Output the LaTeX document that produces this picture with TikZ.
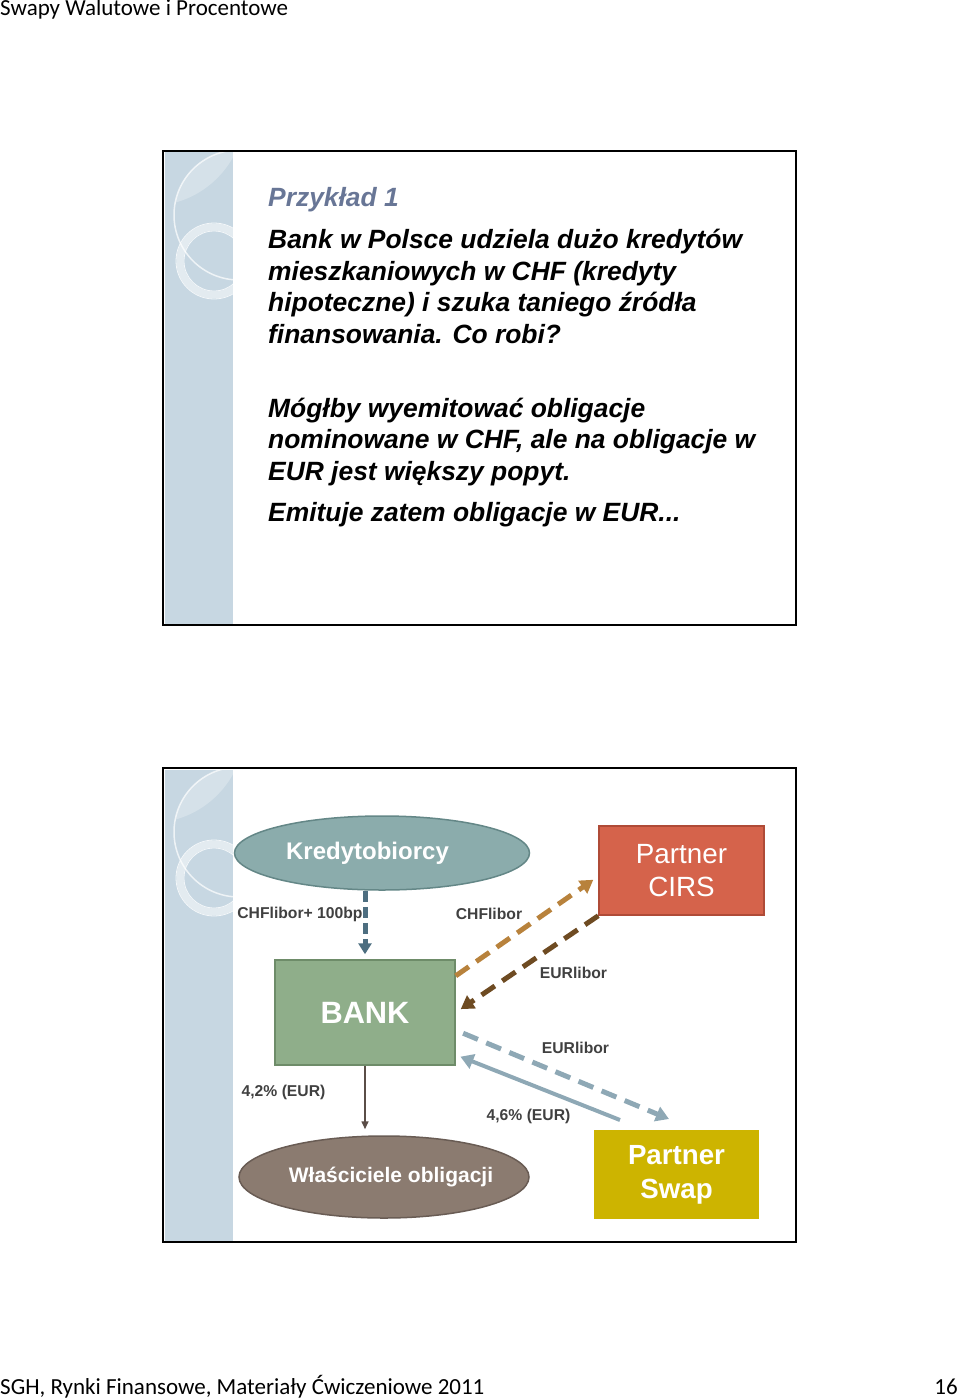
\documentclass[tikz,border=0pt]{standalone}
\usepackage{fontspec}
\setmainfont{Liberation Sans}
\newfontfamily\calibri{Carlito}
\usetikzlibrary{shapes.geometric,arrows.meta}

\definecolor{stripblue}{RGB}{199,215,226}
\definecolor{titleblue}{RGB}{104,118,150}
\definecolor{labelgrey}{RGB}{64,64,64}
\definecolor{kredfill}{RGB}{139,172,172}
\definecolor{kreddraw}{RGB}{100,135,135}
\definecolor{cirsfill}{RGB}{213,99,75}
\definecolor{cirsdraw}{RGB}{175,75,55}
\definecolor{bankfill}{RGB}{143,174,138}
\definecolor{bankdraw}{RGB}{110,140,105}
\definecolor{wlafill}{RGB}{139,123,112}
\definecolor{wladraw}{RGB}{105,92,84}
\definecolor{swapfill}{RGB}{205,180,0}
\definecolor{chfarrow}{RGB}{184,130,60}
\definecolor{eurarrow}{RGB}{110,75,34}
\definecolor{swaparrow}{RGB}{142,168,181}
\definecolor{kredarrow}{RGB}{77,110,128}
\definecolor{wlaarrow}{RGB}{90,77,71}

\tikzset{
  slidetext/.style={anchor=base west, align=left, inner sep=0, font=\bfseries\itshape\fontsize{26.4}{31.5}\selectfont},
  lbl/.style={text=labelgrey, inner sep=0, font=\bfseries\fontsize{15.7}{18}\selectfont},
  oval/.style={ellipse, draw, line width=1.5pt, inner sep=0, text=white},
  box/.style={rectangle, draw, line width=1.5pt, inner sep=0, align=center, text=white},
  flow/.style={line width=5pt, dash pattern=on 16pt off 9pt, -{Triangle[length=13pt,width=15pt]}},
}

\begin{document}
\begin{tikzpicture}[x=1pt,y=-1pt]
\useasboundingbox (0,0) rectangle (960,1399);

% header and footer
\node[anchor=base west, inner sep=0, font=\calibri\fontsize{23}{27}\selectfont] (header) at (0,16) {Swapy Walutowe i Procentowe};
\node[anchor=base west, inner sep=0, font=\calibri\fontsize{23}{27}\selectfont] (footer) at (0,1394) {SGH, Rynki Finansowe, Materiały Ćwiczeniowe 2011};
\node[anchor=base east, inner sep=0, font=\calibri\fontsize{23}{27}\selectfont] (page) at (958,1394) {16};

% two slides: frame and side strip
\foreach \top in {151,768}{
  \begin{scope}
    \clip (165,\top+2) rectangle (233,\top+472);
    \fill[stripblue] (165,\top) rectangle (233,\top+474);
    \begin{scope}
      \clip (150,\top-40) circle (95);
      \fill[white, opacity=0.25] (239,\top+64) circle (65);
    \end{scope}
    \draw[white, opacity=0.7, line width=1.5pt] (239,\top+64) circle (65);
    \draw[white, opacity=0.5, line width=7pt] (214,\top+110) circle (34);
    \draw[white, opacity=0.8, line width=0.8pt] (214,\top+110) circle (38) (214,\top+110) circle (30);
  \end{scope}
  \draw[line width=2pt] (163,\top) rectangle (796,\top+474);
}

% slide 1
\node[slidetext, text=titleblue] (title) at (268,207) {Przykład 1};
\node[slidetext] (intro) at (268,343) {Bank w Polsce udziela dużo kredytów\\mieszkaniowych w CHF (kredyty\\hipoteczne) i szuka taniego źródła\\finansowania. Co robi?};
\node[slidetext] (idea) at (268,480) {Mógłby wyemitować obligacje\\nominowane w CHF, ale na obligacje w\\EUR jest większy popyt.};
\node[slidetext] (answer) at (268,521) {Emituje zatem obligacje w EUR...};

% slide 2
\node[oval, fill=kredfill, draw=kreddraw, minimum width=295pt, minimum height=74pt, font=\bfseries\fontsize{24}{28}\selectfont] (kred) at (382,853) {Kredytobiorcy\kern29pt};
\node[box, fill=cirsfill, draw=cirsdraw, minimum width=165pt, minimum height=89pt, font=\fontsize{27.8}{33}\selectfont] (cirs) at (681.5,870.5) {Partner\\CIRS};
\node[box, fill=bankfill, draw=bankdraw, minimum width=180pt, minimum height=105pt, font=\bfseries\fontsize{30.8}{34}\selectfont] (bank) at (365,1012.5) {BANK};
\node[oval, fill=wlafill, draw=wladraw, inner xsep=-9pt, minimum width=290pt, minimum height=82pt, font=\bfseries\fontsize{21}{25}\selectfont] (wla) at (384,1177) {\kern14pt Właściciele obligacji};
\node[box, fill=swapfill, draw=swapfill, minimum width=163pt, minimum height=87pt, font=\bfseries\fontsize{27.7}{34}\selectfont] (swap) at (676.5,1174.5) {Partner\\Swap};

\coordinate (swapin) at (669,1119);
\coordinate (swapout) at (620,1120);

\draw[flow, kredarrow, dash pattern=on 11pt off 5pt, -{Triangle[length=11pt,width=13pt]}, shorten >=5pt] (bank.north |- kred.south) -- (bank.north);
\draw[flow, chfarrow, shorten >=6pt] (bank.22) -- (cirs.184);
\draw[flow, eurarrow, shorten >=6pt] (cirs.south west) -- (bank.east);
\draw[flow, swaparrow, shorten <=8pt] (bank.-11) -- (swapin);
\draw[swaparrow, line width=4pt, -{Triangle[length=13pt,width=15pt]}, shorten >=5pt] (swapout) -- (bank.-25);
\draw[wlaarrow, line width=1.5pt, -{Triangle[length=8pt,width=7pt]}, shorten >=6pt] (bank.south) -- (bank.south |- wla.north);

\node[lbl] (lkred) at (300,914) {CHFlibor+ 100bp};
\node[lbl] (lchf) at (489,914) {CHFlibor};
\node[lbl] (leurcirs) at (573.5,973) {EURlibor};
\node[lbl] (leurswap) at (575.5,1048) {EURlibor};
\node[lbl] (lbond) at (283.5,1092) {4,2\% (EUR)};
\node[lbl] (lfixed) at (528.5,1116) {4,6\% (EUR)};
\end{tikzpicture}
\end{document}
